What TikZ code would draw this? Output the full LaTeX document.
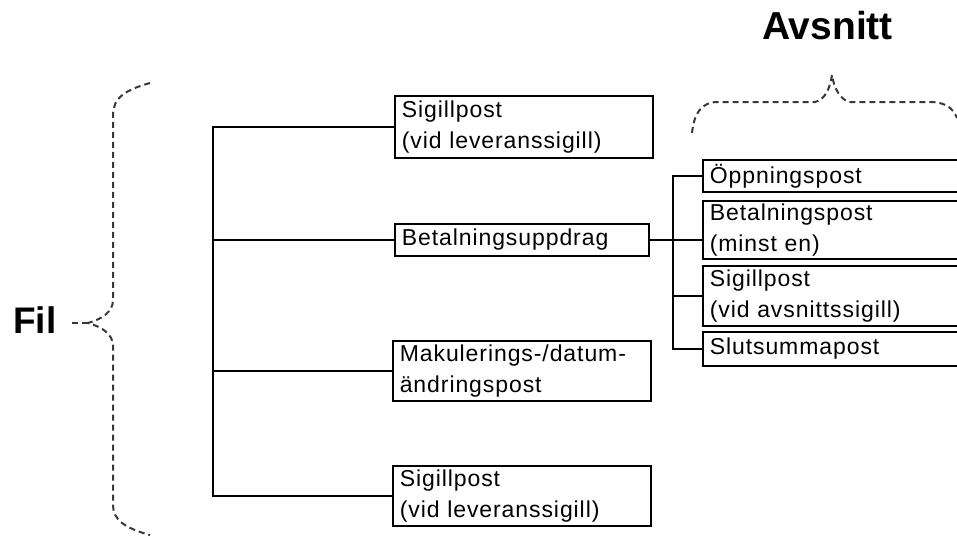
\documentclass[tikz,border=0pt]{standalone}
\usepackage{fontspec}
\setmainfont{Liberation Sans}
\newfontfamily\boxfont{Liberation Sans}[LetterSpace=4]
\definecolor{bracegray}{HTML}{383838}
\begin{document}
\begin{tikzpicture}[x=1pt,y=-1pt,
  rec/.style={draw=black, line width=1.6pt, anchor=north west, inner xsep=7pt, inner ysep=0pt,
    align=left, font=\boxfont\fontsize{23}{31}\selectfont},
  conn/.style={draw=black, line width=1.6pt},
  brace/.style={draw=bracegray, line width=2pt, dash pattern=on 6pt off 4pt},
  title/.style={anchor=base west, inner sep=0pt, font=\bfseries\fontsize{37}{40}\selectfont}]
\useasboundingbox (0,0) rectangle (957,535);
% left column boxes
\node[rec, minimum width=258pt, minimum height=62pt, text width=244pt] (s1) at (394,95)
  {Sigillpost\\(vid leveranssigill)};
\node[rec, minimum width=254pt, minimum height=32pt, text width=240pt] (bu) at (394,223)
  {Betalningsuppdrag};
\node[rec, minimum width=258pt, minimum height=60pt, text width=244pt] (mk) at (392,340)
  {Makulerings-/datum-\\ändringspost};
\node[rec, minimum width=258pt, minimum height=60pt, text width=244pt] (s4) at (392,465)
  {Sigillpost\\(vid leveranssigill)};
% right column boxes
\node[rec, minimum width=275pt, minimum height=32pt, text width=261pt] (op) at (702,159)
  {Öppningspost};
\node[rec, minimum width=275pt, minimum height=58pt, text width=261pt] (bp) at (702,200)
  {Betalningspost\\(minst en)};
\node[rec, minimum width=275pt, minimum height=60pt, text width=261pt] (sp) at (702,265)
  {Sigillpost\\(vid avsnittssigill)};
\node[rec, minimum width=275pt, minimum height=34pt, text width=261pt] (ss) at (702,331)
  {Slutsummapost};
% trunks
\coordinate (lt) at (213,0);
\coordinate (rt) at (673,0);
\draw[conn] (s1.west) -- (s1.west -| lt) -- (s4.west -| lt) -- (s4.west);
\draw[conn] (bu.west) -- (bu.west -| lt);
\draw[conn] (mk.west) -- (mk.west -| lt);
\draw[conn] (op.west) -- (op.west -| rt) -- (ss.west -| rt) -- (ss.west);
\draw[conn] (bu.east) -- (bu.east -| bp.west);
\draw[conn] (sp.west) -- (sp.west -| rt);
% labels
\node[title] (fil) at (13,333) {Fil};
\node[title, font=\bfseries\fontsize{39}{42}\selectfont] (avs) at (762,40) {Avsnitt};
% braces
\coordinate (ftip) at (88,323);
\draw[brace] (150,83) .. controls (125,90) and (113,98) .. (113,115) -- (113,300)
  .. controls (113,312) and (102,319) .. (ftip)
  .. controls (102,327) and (113,334) .. (113,346) -- (113,505)
  .. controls (113,520) and (125,528) .. (150,535);
\draw[brace] (ftip) -- (72,323);
\coordinate (atip) at (832,75);
\draw[brace] (692,133) .. controls (694,115) and (700,102) .. (718,102) -- (815,102)
  .. controls (825,100) and (830,88) .. (atip)
  .. controls (834,88) and (840,100) .. (850,102) -- (930,102)
  .. controls (945,102) and (953,108) .. (957,118);
\end{tikzpicture}
\end{document}
